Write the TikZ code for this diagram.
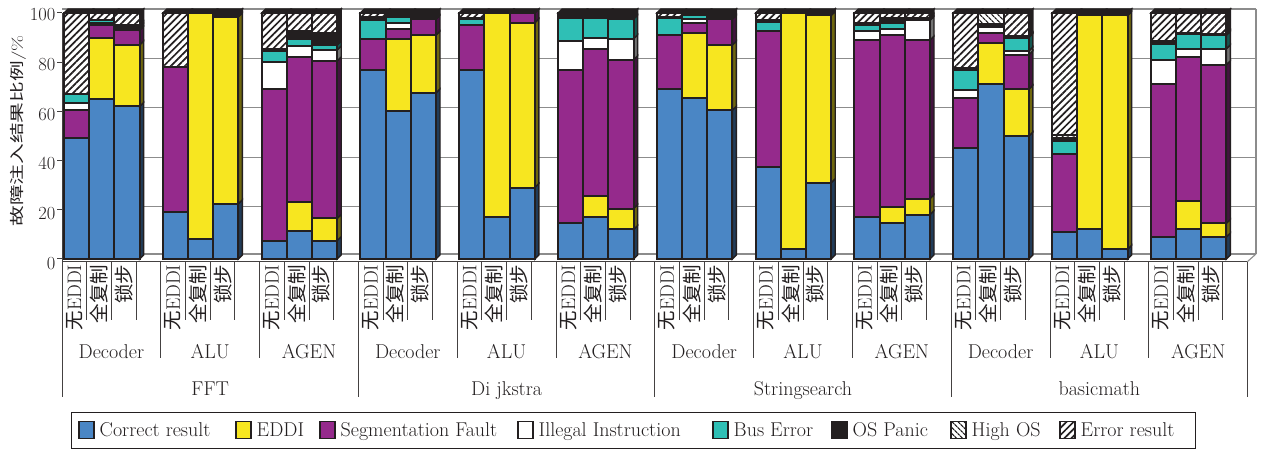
\documentclass[tikz,border=0pt]{standalone}
\usepackage{fontspec}
\newfontfamily\cjk{Noto Sans CJK SC}
\usetikzlibrary{patterns.meta}
\definecolor{col1}{RGB}{74,134,197}
\definecolor{col2}{RGB}{247,230,32}
\definecolor{col3}{RGB}{149,42,140}
\definecolor{col4}{RGB}{255,255,255}
\definecolor{col5}{RGB}{47,191,181}
\definecolor{col6}{RGB}{35,31,32}
\definecolor{col7}{RGB}{255,255,255}
\definecolor{col8}{RGB}{255,255,255}
\definecolor{ink}{RGB}{35,31,32}
\definecolor{gridc}{RGB}{140,140,140}
\colorlet{side1}{col1!45!black}
\colorlet{side2}{col2!45!black}
\colorlet{side3}{col3!45!black}
\colorlet{side4}{white!45!black}
\colorlet{side5}{col5!45!black}
\colorlet{side6}{ink}
\colorlet{side7}{ink}
\colorlet{side8}{ink}
\newcommand\fsz[1]{\fontsize{#1}{#1}\selectfont}
\tikzset{
  barline/.style={draw=ink, line width=2pt},
  facestyle/.style={draw=ink, line width=1.4pt},
  hatchA/.style={pattern={Lines[angle=45,distance=5pt,line width=1.7pt]}, pattern color=ink},
  hatchB/.style={pattern={Lines[angle=-45,distance=4pt,line width=1.4pt]}, pattern color=ink},
  gridline/.style={draw=gridc, line width=1.1pt},
  axisline/.style={draw=ink!85, line width=1pt},
  ticklab/.style={anchor=east, inner sep=0pt, font=\fsz{18.5}, text=ink},
  barlab/.style={rotate=90, anchor=east, inner sep=0pt, font=\fsz{19.5}, text=ink},
  unitlab/.style={anchor=base, inner sep=0pt, font=\fsz{20}, text=ink},
  legtext/.style={anchor=base west, inner sep=0pt, font=\fsz{20}, text=ink},
  legsq/.style={draw=ink, line width=1.6pt}
}
\newcommand\bw{25.2}
\newcommand\dd{4}
\newcommand\drawbar[3]{%
  \gdef\cum{0}%
  \pgfmathsetmacro\xl{#1}%
  \pgfmathsetmacro\xr{#1+\bw}%
  \foreach \v [count=\i] in {#3}{%
    \ifdim\v pt>0pt
      \pgfmathsetmacro\yb{259-2.46*\cum}%
      \pgfmathsetmacro\nc{\cum+\v}%
      \pgfmathsetmacro\yt{259-2.46*\nc}%
      \xdef\cum{\nc}%
      \ifnum#2=1
        \path[facestyle, fill=side\i] (\xr,\yb) -- (\xr+\dd,\yb-\dd) -- (\xr+\dd,\yt-\dd) -- (\xr,\yt) -- cycle;
      \fi
      \fill[fill=col\i] (\xl,\yb) rectangle (\xr,\yt);
      \ifnum\i=7 \fill[hatchB] (\xl,\yb) rectangle (\xr,\yt); \fi
      \ifnum\i=8 \fill[hatchA] (\xl,\yb) rectangle (\xr,\yt); \fi
      \draw[barline] (\xl,\yb) rectangle (\xr,\yt);
    \fi
  }%
  \pgfmathsetmacro\yt{259-2.46*\cum}%
  \path[facestyle, fill=ink] (\xl,\yt) -- (\xl+\dd,\yt-\dd) -- (\xr+\dd,\yt-\dd) -- (\xr,\yt) -- cycle;
}
\newcommand\grp[4]{%
  \pgfmathsetmacro\gx{64+98.8*#1}%
  \drawbar{\gx}{0}{#2}%
  \pgfmathsetmacro\gx{64+98.8*#1}%
  \drawbar{\gx+25.2}{0}{#3}%
  \pgfmathsetmacro\gx{64+98.8*#1}%
  \drawbar{\gx+50.4}{1}{#4}%
}
\newcommand\legitem[4]{%
  \fill[white] (#1,421.5) rectangle (#1+15,438.5);
  \path[#3] (#1,421.5) rectangle (#1+15,438.5);
  \draw[legsq] (#1,421.5) rectangle (#1+15,438.5);
  \node[legtext] (#2) at (#1+20.5,436.5) {#4};
}
\begin{document}
\begin{tikzpicture}[x=1pt,y=-1pt]
\useasboundingbox (0,0) rectangle (1262,449);
\fill[white] (0,0) rectangle (1262,449);
% back wall grid and floor
\foreach \v in {20,40,60,80,100} \draw[gridline] (62,{256-2.47*\v}) -- (1256,{256-2.47*\v});
\draw[gridline] (1256,9) -- (1256,254);
\draw[gridline] (66,254) -- (1256,254);
\draw[gridline] (1247,262) -- (1256,254);
% bars: correct, EDDI, seg, illegal, bus, OS panic, high OS, error
\grp{0}{49,0,11.5,3,3.5,0,0,33}{65,25,5,1,1,0,0,3}{62,25,6,1,0,1,0,5}
\grp{1}{19,0,59,0,0,0,0,22}{8,92,0,0,0,0,0,0}{22.5,76,0,0,0,1.5,0,0}
\grp{2}{7.5,0,61.5,11,4.5,1,0,14.5}{11.5,11.5,59,4.5,3,3,0,7.5}{7.5,9,64,4.5,2,5,0,8}
\grp{3}{77,0,12.5,0,7.5,1.5,0,1.5}{60,29.5,4,2.5,2.5,1.5,0,0}{67.5,23.5,6.5,0,0,2.5,0,0}
\grp{4}{77,0,18,0,2.5,0.5,0,2}{17,83,0,0,0,0,0,0}{29,67,4,0,0,0,0,0}
\grp{5}{14.5,0,62.5,11.5,9.5,1,0,1}{17,8.5,60,4.5,8,2,0,0}{12,8.5,60.5,8.5,8,2.5,0,0}
\grp{6}{69,0,22,0,7,0.5,0,1.5}{65.5,26.5,4,1.5,1.5,1,0,0}{60.5,26.5,10.5,0,0,2.5,0,0}
\grp{7}{37.5,0,55,0,4,0.5,0,3}{4,96,0,0,0,0,0,0}{31,68,0,0,0,1,0,0}
\grp{8}{17,0,72,3.5,2.5,1,0,4}{14.5,6.5,70,2.5,2.5,2,0,2}{18,6.5,64.5,8,0,1,0,2}
\grp{9}{45,0,20.5,3,8.5,0.5,0,22.5}{71,17,4,2.5,0,1,4.5,0}{50,19,14,1.5,5.5,0.5,0,9.5}
\grp{10}{11,0,31.5,0,5.5,1,1.5,49.5}{12,87,0,0,0,1,0,0}{4,95,0,0,0,1,0,0}
\grp{11}{9,0,62,10,6.5,1,0,11.5}{12,11.5,58.5,3.5,6,0.5,0,8}{9,5.5,64.5,6.5,5.5,0.5,0,8.5}
% axis
\draw[axisline] (62,13) -- (62,262) -- (1247,262);
\foreach \v in {0,20,40,60,80,100}{
  \draw[axisline] (57,{259-2.46*\v}) -- (62,{259-2.46*\v});
  \node[ticklab] (t\v) at (55.5,{263.5-2.49*\v}) {\v};
}
\node[rotate=90, inner sep=0pt, text=ink] (ylab) at (18,131)
  {\scalebox{1.15}[0.8]{\fsz{18}{\cjk 故障注入结果比例}/\%}};
% category label grid
\foreach \k in {0,...,48}{
  \pgfmathtruncatemacro\ma{mod(\k,12)}
  \pgfmathtruncatemacro\mb{mod(\k,4)}
  \pgfmathsetmacro\len{\ma==0 ? 397 : (\mb==0 ? 358 : 320)}
  \draw[axisline] ({62+24.7*\k},262) -- ({62+24.7*\k},\len);
}
\foreach \k in {0,...,47}{
  \pgfmathtruncatemacro\mb{mod(\k,4)}
  \ifnum\mb<3
    \node[barlab] (bl\k) at ({62+24.7*(\k+0.5)},264.5)
      {\ifcase\mb {\cjk 无}EDDI\or {\cjk 全复制}\or {\cjk 锁步}\fi};
  \fi
}
\foreach \g in {0,...,11}{
  \pgfmathtruncatemacro\mc{mod(\g,3)}
  \node[unitlab] (u\g) at ({62+98.8*(\g+0.5)},358) {\ifcase\mc Decoder\or ALU\or AGEN\fi};
}
\foreach \nm [count=\j from 0] in {FFT,Di jkstra,Stringsearch,basicmath}
  \node[unitlab] (bm\j) at ({62+296.4*(\j+0.5)},395) {\nm};
% legend
\draw[draw=ink, line width=1pt] (71,412) rectangle (1195,448);
\legitem{79}{lg1}{fill=col1}{Correct result}
\legitem{236}{lg2}{fill=col2}{EDDI}
\legitem{320}{lg3}{fill=col3}{Segmentation Fault}
\legitem{518}{lg4}{fill=col4}{Illegal Instruction}
\legitem{713}{lg5}{fill=col5}{Bus Error}
\legitem{832}{lg6}{fill=col6}{OS Panic}
\legitem{951}{lg7}{hatchB}{High OS}
\legitem{1060}{lg8}{hatchA}{Error result}
\end{tikzpicture}
\end{document}
